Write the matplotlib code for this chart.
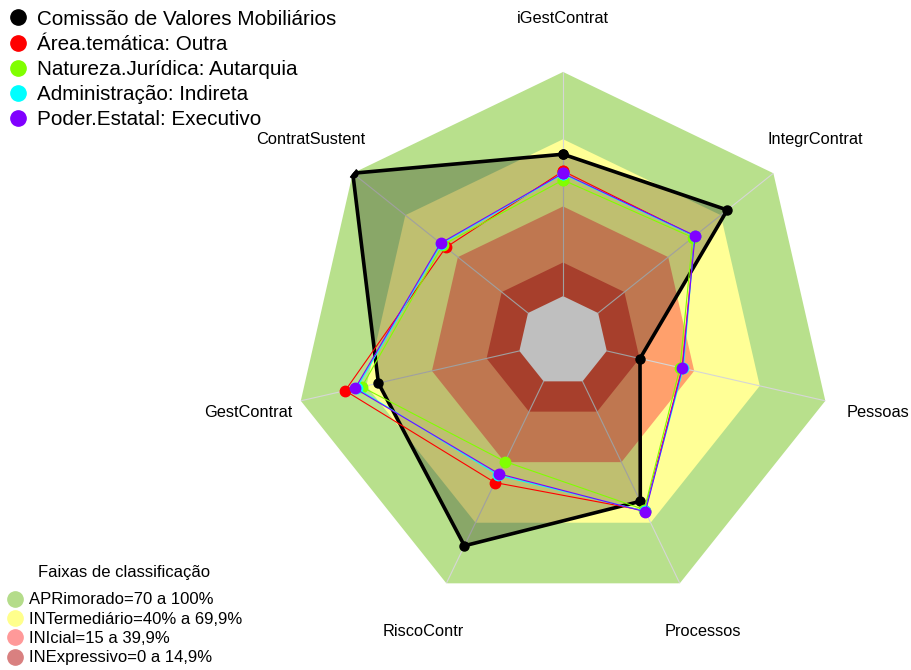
import numpy as np
import matplotlib.pyplot as plt
from matplotlib.lines import Line2D

plt.rcParams['font.family'] = ['Liberation Sans', 'DejaVu Sans']

eixos = ["iGestContrat", "IntegrContrat", "Pessoas", "Processos",
         "RiscoContr", "GestContrat", "ContratSustent"]

# percentuais por eixo
cvm = [63.3, 73.7, 15.2, 59.4, 81.4, 64.5, 100.0]
area_outra = [55.8, 55.0, 34.5, 64.0, 50.1, 79.7, 46.9]
autarquia = [51.8, 54.0, 33.5, 63.5, 39.7, 72.1, 48.7]
indireta = [54.5, 55.0, 35.0, 64.3, 46.5, 74.5, 49.5]
executivo = [54.8, 55.3, 34.6, 64.6, 45.8, 75.2, 49.9]

series = [
    ("Área.temática: Outra", area_outra, "#ff0000"),
    ("Natureza.Jurídica: Autarquia", autarquia, "#80ff00"),
    ("Administração: Indireta", indireta, "#00ffff"),
    ("Poder.Estatal: Executivo", executivo, "#8000ff"),
]

# faixas de classificacao (limite superior)
faixas_lim = [100, 70, 40, 15, 0]
faixas_cor = ["#b8e08c", "#ffff96", "#ffa06c", "#e0553c", "#ffffff"]
faixas_nome = ["APRimorado=70 a 100%", "INTermediário=40% a 69,9%",
               "INIcial=15 a 39,9%", "INExpressivo=0 a 14,9%"]
faixas_leg = ["#b4dc8a", "#ffff8c", "#ff9999", "#d98080"]

angulos = np.linspace(0, 2 * np.pi, len(eixos), endpoint=False)
ang_f = np.append(angulos, angulos[0])


def fechar(v):
    return np.append(v, v[0])


fig = plt.figure(figsize=(9.12, 6.7), dpi=100)
ax = fig.add_axes([0.3224, 0.0896, 0.590, 0.803], projection='polar')
ax.set_theta_zero_location('N')
ax.set_theta_direction(-1)
ax.set_ylim(-20, 100)
ax.axis('off')

for lim, cor in zip(faixas_lim, faixas_cor):
    ax.fill(ang_f, np.full(len(ang_f), lim), color=cor, lw=0, zorder=1)

for a in angulos:
    ax.plot([a, a], [0, 100], color="#d6d6d6", lw=0.8, zorder=2)

ax.fill(ang_f, fechar(cvm), color="black", alpha=0.25, lw=0, zorder=3)
ax.plot(ang_f, fechar(cvm), color="black", lw=2.6, marker="o", ms=6.5, zorder=4)

for nome, vals, cor in series:
    ax.plot(ang_f, fechar(vals), color=cor, lw=0.8, marker="o", ms=7.5, zorder=5)

for a, nome in zip(angulos, eixos):
    ax.text(a, 124, nome, ha="center", va="center", fontsize=11.8)

h1 = [Line2D([], [], ls="", marker="o", ms=11, color="black")]
h1 += [Line2D([], [], ls="", marker="o", ms=11, color=c) for _, _, c in series]
l1 = ["Comissão de Valores Mobiliários"] + [s[0] for s in series]
fig.legend(h1, l1, loc="upper left", bbox_to_anchor=(0, 0.997), frameon=False,
           fontsize=14.9, handlelength=1, handletextpad=0.41, labelspacing=0.30,
           borderpad=0.365, borderaxespad=0)

h2 = [Line2D([], [], ls="", marker="o", ms=11, color=c) for c in faixas_leg]
fig.legend(h2, faixas_nome, loc="lower left", bbox_to_anchor=(0, -0.003), frameon=False,
           fontsize=12, handlelength=1, handletextpad=0.34, labelspacing=0.26,
           borderpad=0.4, borderaxespad=0)
fig.text(124 / 912, 1 - 572 / 670, "Faixas de classificação", fontsize=12,
         ha="center", va="center")

fig.savefig("out.png", dpi=100)
